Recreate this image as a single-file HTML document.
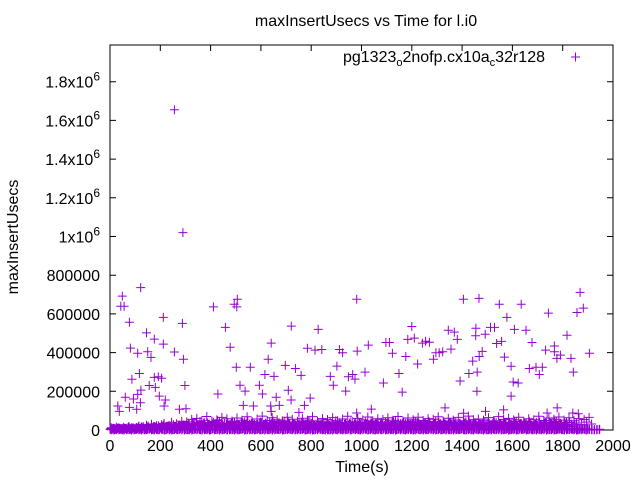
<!DOCTYPE html>
<html><head><meta charset="utf-8">
<style>
body{margin:0;background:#fff;}
svg{display:block;font-family:"Liberation Sans",sans-serif;}
</style></head>
<body>
<svg id="chart" width="640" height="480" viewBox="0 0 640 480" xmlns="http://www.w3.org/2000/svg">
<rect x="0" y="0" width="640" height="480" fill="#fff"/>
<text x="366" y="26" font-size="16" text-anchor="middle">maxInsertUsecs vs Time for l.i0</text>
<text x="0" y="0" font-size="16" text-anchor="middle" transform="translate(18,237) rotate(-90)">maxInsertUsecs</text>
<text x="362" y="472" font-size="16" text-anchor="middle">Time(s)</text>
<g id="axes"></g>
<g id="marks"></g>
<g>
<text x="545" y="62" font-size="16" text-anchor="end">pg1323<tspan font-size="11" dy="4">o</tspan><tspan dy="-4">2nofp.cx10a</tspan><tspan font-size="11" dy="4">c</tspan><tspan dy="-4">32r128</tspan></text>
<path d="M571 57h9M575.5 52.5v9" stroke="#9400d3" stroke-width="1"/>
</g>
</svg>
<script>
const xTicks=[0,200,400,600,800,1000,1200,1400,1600,1800,2000];
const yTicks=[0,200000,400000,600000,800000,1000000,1200000,1400000,1600000,1800000];
const yTickLabels=["0","200000","400000","600000","800000","1x10^6","1.2x10^6","1.4x10^6","1.6x10^6","1.8x10^6"];
const outTimes=[256,290,122,49,43,56,77,212,288,145,176,212,81,110,150,163,256,292,117,87,176,192,205,180,156,123,110,93,61,196,220,121,77,31,37,106,215,276,302,298,411,459,494,506,504,478,502,558,517,537,429,530,570,641,629,616,652,594,606,661,673,639,641,721,697,737,760,709,720,796,773,751,828,785,815,842,876,888,902,912,925,937,948,965,974,981,983,981,1027,1014,1087,1097,1111,1123,1149,1162,1176,1184,1200,1210,1223,1242,1255,1270,1286,1296,1309,1323,1345,1369,1381,1356,1392,1405,1467,1427,1460,1459,1442,1468,1480,1455,1454,1492,1513,1529,1537,1557,1548,1568,1578,1608,1595,1603,1623,1595,1635,1654,1678,1667,1694,1719,1707,1732,1743,1767,1767,1777,1791,1817,1833,1842,1857,1869,1882,1906,1039,1332,1406,1493,1565,1738,1778,1840,1862];
const outValues=[1655,1020,736,692,640,640,557,582,551,502,470,444,423,397,404,375,403,366,292,262,272,275,267,220,230,206,184,160,169,175,155,141,117,124,96,107,124,107,110,230,636,530,650,676,636,428,324,324,231,201,186,127,124,449,366,287,277,231,186,169,127,124,96,537,334,318,282,205,155,165,127,91,520,422,413,416,277,231,330,416,399,201,275,287,263,676,408,88,439,299,243,452,452,397,292,196,380,468,535,475,341,449,459,454,366,399,399,404,516,506,468,418,253,676,680,292,299,200,356,380,406,526,487,495,530,530,447,458,650,377,582,520,329,248,243,175,650,516,452,318,324,324,287,413,604,434,404,370,387,490,370,299,607,711,630,397,108,114,87,96,104,88,114,88,84];
const bandStep=10;
const lowValues=[3,6,2,8,4,1,7,5,3,9,2,6,4,8,1,5,7,3,6,2,9,4,1,8,5,3,7,2,6,10,4,1,8,3,5,7,2,9,4,6,1,8,3,5,7,2,6,10,4,3,8,1,5,7,2,9,4,6,3,8,1,5,7,2,6,9,4,3,8,1,5,7,2,9,4,6,3,8,1,5,7,2,6,10,4,3,8,1,5,7,2,9,4,6,3,8,1,5,7,2,6,9,4,3,8,1,5,7,2,9,4,6,3,8,1,5,7,2,6,10,4,3,8,1,5,7,2,9,4,6,3,8,1,5,7,2,6,9,4,3,8,1,5,7,2,9,4,6,3,8,1,5,7,2,6,10,4,3,8,1,5,7,2,9,4,6,3,8,1,5,7,2,6,9,4,3,8,1,5,7,2,9,4,6,3,8,1,5,7,2,6];
const zeroValues=[1,0,2,1,3,0,1,2,0,1,3,2,0,1,2,4,1,0,2,1,3,0,2,1,0,1,2,3,1,0,2,1,0,3,1,2,0,1,2,0,4,1,2,0,1,3,0,2,1,0,1,2,3,0,1,2,1,0,3,1,2,0,1,2,0,1,3,2,0,1,2,4,1,0,2,1,3,0,2,1,0,1,2,3,1,0,2,1,0,3,1,2,0,1,2,0,4,1,2,0,1,3,0,2,1,0,1,2,3,0,1,2,1,0,3,1,2,0,1,2,0,1,3,2,0,1,2,4,1,0,2,1,3,0,2,1,0,1,2,3,1,0,2,1,0,3,1,2,0,1,2,0,4,1,2,0,1,3,0,2,1,0,1,2,3,0,1,2,1,0,3,1,2,0,1,2,0,1,3,2,0,1,2,4,1,0,2,1,3,0,2,1,0,1,2];
const midValues=[12,8,15,10,6,14,9,18,11,7,13,20,16,9,25,12,30,18,22,14,28,35,19,24,40,17,32,26,45,21,42,28,55,35,60,22,48,38,70,30,45,25,52,40,65,33,58,27,46,36,62,24,50,41,68,31,44,29,57,37,72,26,49,39,63,34,53,23,47,43,66,32,56,28,45,38,61,25,51,42,69,30,46,35,59,27,54,40,64,33,48,24,57,37,71,29,43,39,60,26,52,41,67,31,47,36,58,28,55,38,63,23,50,44,70,32,45,34,62,27,53,40,66,30,49,37,59,25,56,42,68,33,46,29,61,35,51,39,65,26,48,43,72,31,54,36,57,28,50,41,64,24,47,38,69,32,55,30,60,27,52,44,66,34,45,37,58,25,53,40,71,29,49,35,62,33,56,42,67,26,51,39,63,30,48,36,59,28,54,41,65,31];
const lowMidValues=[6,9,5,11,7,10,8,13,6,12,9,15,10,18,8,20,12,16,14,22,11,25,17,19,13,28,15,23,18,26,20,32,14,27,38,18,24,35,16,29,21,40,17,26,33,19,30,22,36,15,28,24,39,20,31,17,34,25,27,19,37,23,30,16,33,26,21,38,18,29,24,35,20,32,17,27,36,22,30,19,34,25,28,16,39,21,31,23,33,18,26,37,20,29,24,35,17,32,22,38,19,27,30,21,34,25,36,18,28,23,31,20,37,26,29,17,33,22,35,24,30,19,38,27,21,32,25,34,18,36,23,29,20,31,26,39,22,28,17,35,24,33,19,30,27,37,21,25,32,18,36,23,34,28,20,31,26,38,22,29,19,35,24,33,21,30,27,36,18,32,25,28,23,37,20,34,26,31,22,35,19,29];
const extraValues=[4,7,5,9,6,8,5,10,7,6,9,8,11,7,14,9,12,16,10,13,18,11,15,20,12,17,14,22,16,19,25,14,30,18,22,44,16,27,36,20,31,24,48,19,28,15,34,26,40,22,29,18,37,25,45,21,32,17,28,41,23,35,19,30,46,24,33,16,38,27,42,20,31,25,39,18,34,28,44,22,30,17,36,26,41,21,33,19,29,47,24,35,18,32,26,43,20,30,23,38,17,34,27,45,21,31,25,40,19,28,36,22,42,18,33,26,39,20,29,24,46,17,35,23,31,27,44,19,30,22,37,25,41,18,34,28,43,21,32,20,38,26,45,17,29,24,36,22,40,19,33,27,42,21,30,23,39,18,35,25,44,20,31,26,37,22,43,19,28,24,41,17,34,21,38,27,46,23,32,20,36,25,40,18,30];

const L=110,R=613,T=45,B=430;
const xMax=2000;
function xs(v){return L+(v/xMax)*(R-L);}
function ys(v){return B-(v/1800000)*(B-81.7);}
const NS="http://www.w3.org/2000/svg";
const axes=document.getElementById('axes');
const marks=document.getElementById('marks');

const frame=document.createElementNS(NS,'rect');
frame.setAttribute('x',L);frame.setAttribute('y',T);frame.setAttribute('width',R-L);frame.setAttribute('height',B-T);
frame.setAttribute('fill','none');frame.setAttribute('stroke','#000');frame.setAttribute('stroke-width','1');


axes.appendChild(frame);

xTicks.forEach(function(t){
  const x=xs(t);
  const p=document.createElementNS(NS,'path');
  p.setAttribute('d','M'+x+' '+B+'v-6M'+x+' '+T+'v6');
  p.setAttribute('stroke','#000');
  
  
  axes.appendChild(p);
  const tx=document.createElementNS(NS,'text');
  tx.setAttribute('x',x);tx.setAttribute('y',B+21);
  tx.setAttribute('font-size','16');tx.setAttribute('text-anchor','middle');
  tx.textContent=String(t);
  
  
  axes.appendChild(tx);
});
yTicks.forEach(function(t,i){
  const y=ys(t);
  const p=document.createElementNS(NS,'path');
  p.setAttribute('d','M'+L+' '+y+'h6M'+R+' '+y+'h-6');
  p.setAttribute('stroke','#000');
  
  
  axes.appendChild(p);
  const tx=document.createElementNS(NS,'text');
  tx.setAttribute('x',100);tx.setAttribute('y',y+6);
  tx.setAttribute('font-size','16');tx.setAttribute('text-anchor','end');
  const lab=yTickLabels[i];
  if(lab.indexOf('^')>=0){
    const parts=lab.split('^');
    tx.appendChild(document.createTextNode(parts[0]));
    const s=document.createElementNS(NS,'tspan');
    s.setAttribute('font-size','12');s.setAttribute('dy','-7');
    s.textContent=parts[1];
    tx.appendChild(s);
  } else tx.textContent=lab;
  
  
  axes.appendChild(tx);
});

let d='';
function cross(t,v){const x=xs(t),y=ys(v);d+='M'+(x-4.5).toFixed(1)+' '+y.toFixed(1)+'h9M'+x.toFixed(1)+' '+(y-4.5).toFixed(1)+'v9';}
lowValues.forEach(function(v,i){cross(i*bandStep,v*1000);});
zeroValues.forEach(function(v,i){cross(i*bandStep+5,v*1000);});
zeroValues.forEach(function(v,i){cross(i*bandStep+7,(v+2)*1000);});
lowMidValues.forEach(function(v,i){cross(i*bandStep+2,v*1000);});
extraValues.forEach(function(v,i){cross(i*bandStep+8,v*1000);});
midValues.forEach(function(v,i){cross(i*bandStep+5,v*1000);});
outTimes.forEach(function(t,i){cross(t,outValues[i]*1000);});
const pts=document.createElementNS(NS,'path');
pts.setAttribute('d',d);
pts.setAttribute('stroke','#9400d3');
pts.setAttribute('stroke-width','1');
pts.setAttribute('fill','none');


marks.appendChild(pts);
</script>
</body></html>
